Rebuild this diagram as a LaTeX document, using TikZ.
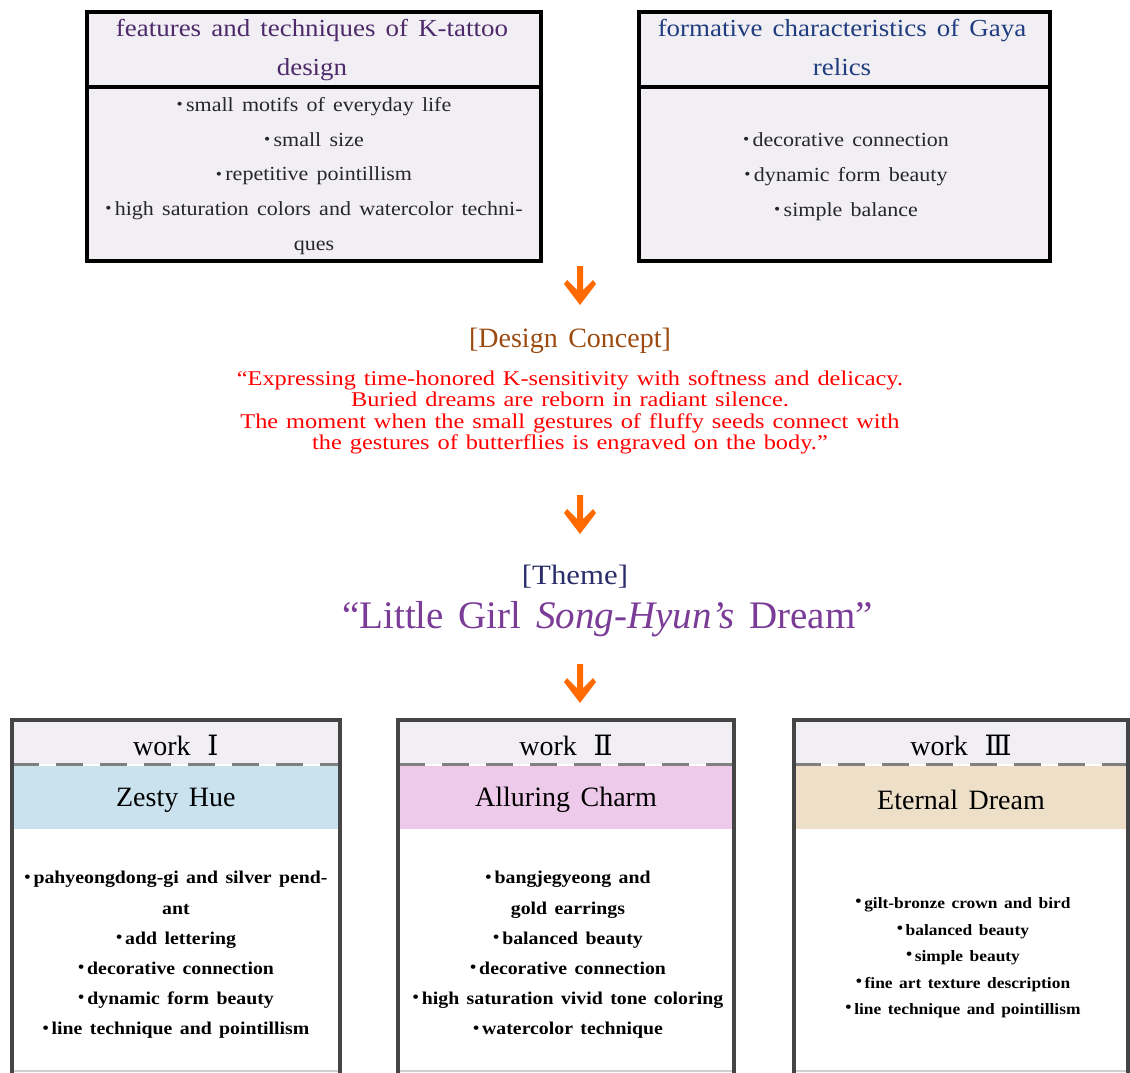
\documentclass[tikz,border=0pt]{standalone}
\usepackage{fontspec}
\setmainfont{Liberation Serif}[WordSpace=1.5]
\newfontfamily\widefont{Liberation Serif}[FakeStretch=1.1,WordSpace=1.5]
\newfontfamily\condfont{Liberation Serif}[FakeStretch=1.16,WordSpace=1.3]
\newfontfamily\numfont{DejaVu Serif}
\definecolor{boxfill}{HTML}{F1EFF3}
\definecolor{hdrL}{HTML}{4E2A6B}
\definecolor{hdrR}{HTML}{1F3D7F}
\definecolor{concept}{HTML}{9C4A0F}
\definecolor{themec}{HTML}{2B2E6B}
\definecolor{titlec}{HTML}{7A3C96}
\definecolor{arrowc}{HTML}{FF6A00}
\definecolor{wborder}{HTML}{454545}
\definecolor{dashc}{HTML}{808080}
\definecolor{lightline}{HTML}{CFCFCF}
\definecolor{bandA}{HTML}{C9E2EE}
\definecolor{bandB}{HTML}{EDCAE9}
\definecolor{bandC}{HTML}{EEDFC8}
\newcommand\bul{{\fontsize{16}{12}\selectfont\raisebox{0.25ex}{•}}\,}
\begin{document}
\begin{tikzpicture}[x=1pt,y=-1pt,line join=miter,
  topbox/.style={draw=black,line width=4pt,fill=boxfill,inner sep=0pt,anchor=north west},
  hdrtext/.style={font=\widefont\fontsize{24.5}{39}\selectfont,inner sep=0pt,anchor=base},
  bodytext/.style={font=\widefont\fontsize{20}{34.8}\selectfont,align=center,inner sep=0pt,text=black!85},
  worktext/.style={font=\fontsize{28}{28}\selectfont,inner sep=0pt},
  bandtext/.style={font=\fontsize{28}{28}\selectfont,inner sep=0pt},
  wbody/.style={font=\widefont\bfseries\fontsize{18}{30.2}\selectfont,align=center,inner sep=0pt},
  wdash/.style={draw=dashc,line width=3.5pt,dash pattern=on 27pt off 17pt},
  downarr/.pic={\fill[arrowc] (-3,0) -- (3,0) -- (3,24) -- (13,14) -- (16,18) -- (0,39) -- (-16,18) -- (-13,14) -- (-3,24) -- cycle;}
]
\useasboundingbox (0,0) rectangle (1130,1073);

% ---- top boxes ----
\node[topbox,minimum width=454pt,minimum height=249pt] (tl) at (85,10) {};
\draw[line width=4pt] (tl.west |- 0,87) coordinate (tldl) -- (tl.east |- 0,87) coordinate (tldr);
\node[hdrtext,text=hdrL] (tlh1) at (312,37) {features and techniques of K-tattoo};
\node[hdrtext,text=hdrL] (tlh2) at (312,76) {design};
\node[bodytext] (tlb) at (314,176) {\bul small motifs of everyday life\\\bul small size\\\bul repetitive pointillism\\\bul high saturation colors and watercolor techni-\\ques};

\node[topbox,minimum width=411pt,minimum height=249pt] (tr) at (637,10) {};
\draw[line width=4pt] (tr.west |- 0,87) coordinate (trdl) -- (tr.east |- 0,87) coordinate (trdr);
\node[hdrtext,text=hdrR] (trh1) at (842,37) {formative characteristics of Gaya};
\node[hdrtext,text=hdrR] (trh2) at (842,76) {relics};
\node[bodytext] (trb) at (846,176.5) {\bul decorative connection\\\bul dynamic form beauty\\\bul simple balance};

% ---- arrows ----
\pic (ar1) at (580,266) {downarr};
\pic (ar2) at (580,495) {downarr};
\pic (ar3) at (580,664) {downarr};

% ---- design concept ----
\node[font=\fontsize{28}{28}\selectfont,text=concept,inner sep=0pt] (dc) at (570,341) {[Design Concept]};
\node[font=\condfont\fontsize{21}{21.3}\selectfont,text=red,align=center,inner sep=0pt] (dctext) at (570,412.5)
 {“Expressing time-honored K-sensitivity with softness and delicacy.\\
  Buried dreams are reborn in radiant silence.\\
  The moment when the small gestures of fluffy seeds connect with\\
  the gestures of butterflies is engraved on the body.”};

% ---- theme ----
\node[font=\widefont\fontsize{28}{28}\selectfont,text=themec,inner sep=0pt] (th) at (575,577) {[Theme]};
\node[font=\fontsize{39}{39}\selectfont,text=titlec,inner sep=0pt] (tt) at (607.5,619) {“Little Girl \textit{Song-Hyun’s} Dream”};

% ---- work boxes ----
\foreach \L/\R/\band/\num/\ttl/\n in {11.5/340/bandA/{Ⅰ}/{Zesty Hue}/1, 398/734/bandB/{Ⅱ}/{Alluring Charm}/2, 794/1128/bandC/{Ⅲ}/{Eternal Dream}/3}{
  \fill[boxfill] (\L,720) rectangle (\R,764);
  \fill[\band] (\L,766) rectangle (\R,829);
  \draw[lightline,line width=2pt] (\L,1071) -- (\R,1071);
  \draw[wdash] (\L,764.5) -- (\R,764.5);
  \draw[wborder,line width=4pt] (\L,1073) -- (\L,720) -- (\R,720) -- (\R,1073);
  \node[worktext] (wk\n) at ({(\L+\R)/2},745) {work\hspace{0.6em}{\numfont\num}};
  \node[bandtext] (bt\n) at ({(\L+\R)/2},800) {\ttl};
}

\node[wbody] (wb1) at (176,955) {\bul pahyeongdong-gi and silver pend-\\ant\\\bul add lettering\\\bul decorative connection\\\bul dynamic form beauty\\\bul line technique and pointillism};
\node[wbody] (wb2) at (568,955) {\bul bangjegyeong and\\gold earrings\\\bul balanced beauty\\\bul decorative connection\\\bul high saturation vivid tone coloring\\\bul watercolor technique};
\node[wbody,font=\widefont\bfseries\fontsize{15.8}{26.5}\selectfont] (wb3) at (963,958) {\bul gilt-bronze crown and bird\\\bul balanced beauty\\\bul simple beauty\\\bul fine art texture description\\\bul line technique and pointillism};
\end{tikzpicture}
\end{document}
